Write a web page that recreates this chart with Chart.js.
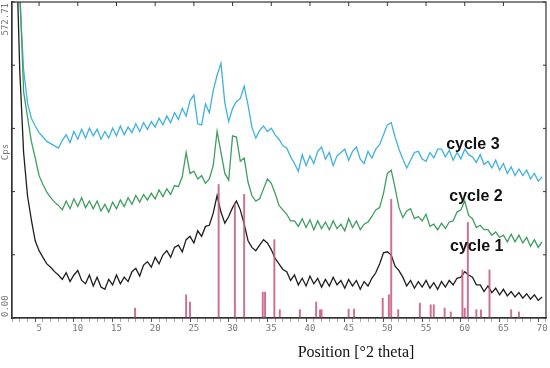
<!DOCTYPE html>
<html>
<head>
<meta charset="utf-8">
<script src="https://cdn.jsdelivr.net/npm/chart.js@4.4.1/dist/chart.umd.min.js"></script>
<style>
  html, body { margin: 0; padding: 0; background: #fff; }
  #wrap { width: 550px; height: 368px; }
</style>
</head>
<body>
<div id="wrap"><canvas id="xrd"></canvas></div>
<script>
// 2 theta positions (deg) shared by the three scans
const theta = [
  2.0, 2.5, 3.0, 3.5, 4.0, 4.5, 5.0, 5.5, 6.0, 6.5,
  7.0, 7.5, 8.0, 8.5, 9.0, 9.5, 10.0, 10.5, 11.0, 11.5,
  12.0, 12.5, 13.0, 13.5, 14.0, 14.5, 15.0, 15.5, 16.0, 16.5,
  17.0, 17.5, 18.0, 18.5, 19.0, 19.5, 20.0, 20.5, 21.0, 21.5,
  22.0, 22.5, 23.0, 23.5, 24.0, 24.5, 25.0, 25.5, 26.0, 26.5,
  27.0, 27.5, 28.0, 28.5, 29.0, 29.5, 30.0, 30.5, 31.0, 31.5,
  32.0, 32.5, 33.0, 33.5, 34.0, 34.5, 35.0, 35.5, 36.0, 36.5,
  37.0, 37.5, 38.0, 38.5, 39.0, 39.5, 40.0, 40.5, 41.0, 41.5,
  42.0, 42.5, 43.0, 43.5, 44.0, 44.5, 45.0, 45.5, 46.0, 46.5,
  47.0, 47.5, 48.0, 48.5, 49.0, 49.5, 50.0, 50.5, 51.0, 51.5,
  52.0, 52.5, 53.0, 53.5, 54.0, 54.5, 55.0, 55.5, 56.0, 56.5,
  57.0, 57.5, 58.0, 58.5, 59.0, 59.5, 60.0, 60.5, 61.0, 61.5,
  62.0, 62.5, 63.0, 63.5, 64.0, 64.5, 65.0, 65.5, 66.0, 66.5,
  67.0, 67.5, 68.0, 68.5, 69.0, 69.5, 70.0
];

// counts (Cps)
const cycle1 = [
  700, 450, 300, 222, 178, 140, 122, 110, 98, 92,
  84, 78, 70, 82, 66, 78, 86, 68, 62, 78,
  58, 74, 56, 52, 70, 60, 78, 62, 74, 66,
  84, 90, 76, 96, 102, 92, 110, 98, 114, 122,
  110, 128, 132, 120, 142, 148, 136, 158, 148, 166,
  168, 190, 222, 192, 172, 184, 200, 212, 196, 170,
  140, 128, 122, 132, 142, 136, 124, 108, 98, 88,
  84, 68, 78, 60, 72, 58, 76, 62, 72, 56,
  70, 58, 74, 60, 68, 54, 70, 58, 68, 52,
  66, 58, 72, 82, 98, 118, 120, 114, 94, 86,
  74, 58, 68, 54, 66, 56, 68, 54, 64, 52,
  66, 56, 68, 60, 72, 74, 84, 78, 74, 60,
  60, 48, 58, 46, 54, 42, 52, 40, 48, 38,
  46, 36, 44, 34, 42, 32, 38
];

const cycle2 = [
  800, 600, 410, 365, 320, 290, 258, 242, 228, 218,
  210, 204, 196, 212, 198, 216, 202, 218, 200, 212,
  198, 212, 194, 206, 192, 210, 198, 214, 202, 218,
  206, 222, 210, 224, 214, 226, 216, 232, 220, 234,
  224, 240, 238, 256, 300, 262, 266, 252, 258, 244,
  252, 276, 338, 300, 262, 250, 330, 328, 284, 290,
  246, 222, 212, 216, 234, 252, 244, 226, 204, 196,
  188, 176, 176, 166, 180, 164, 178, 160, 176, 162,
  174, 160, 176, 162, 170, 158, 180, 164, 176, 160,
  170, 174, 184, 196, 200, 226, 262, 268, 236, 200,
  182, 194, 198, 180, 184, 176, 188, 166, 170, 160,
  172, 162, 174, 176, 192, 196, 212, 186, 180, 164,
  168, 160, 160, 150, 156, 146, 150, 138, 152, 138,
  150, 136, 146, 130, 142, 128, 138
];

const cycle3 = [
  900, 580, 450, 390, 362, 348, 336, 328, 320, 316,
  312, 308, 322, 332, 318, 338, 324, 342, 326, 344,
  330, 342, 324, 338, 326, 344, 330, 348, 332, 346,
  336, 352, 338, 354, 342, 356, 346, 362, 350, 366,
  354, 372, 360, 380, 366, 394, 404, 352, 350, 388,
  372, 412, 440, 462, 390, 356, 380, 392, 398, 420,
  386, 346, 326, 340, 348, 338, 344, 332, 324, 312,
  308, 292, 280, 266, 296, 276, 294, 280, 302, 310,
  288, 300, 276, 294, 300, 306, 286, 302, 310, 288,
  280, 302, 290, 306, 314, 332, 350, 354, 328, 306,
  288, 272, 286, 300, 302, 288, 284, 300, 290, 306,
  306, 292, 304, 286, 300, 288, 306, 296, 292, 282,
  296, 278, 284, 272, 286, 268, 280, 262, 274, 258,
  270, 258, 268, 252, 262, 248, 256
];

// reference pattern sticks
const refTheta = [17.4, 24.0, 24.5, 28.2, 30.3, 31.5, 33.9, 34.2, 35.4, 36.1,
  38.7, 40.8, 41.3, 41.5, 45.0, 45.7, 49.4, 50.2, 50.5, 51.4,
  54.2, 55.6, 56.0, 57.4, 58.2, 59.7, 60.0, 60.4, 61.5, 62.1,
  63.2, 66.0, 67.0];
const refCps = [18, 42, 29, 242, 205, 224, 47, 47, 142, 15,
  15, 29, 15, 15, 16, 16, 36, 42, 215, 15,
  27, 24, 24, 18, 11, 87, 18, 173, 15, 15,
  87, 15, 11];

const yMax = 572.71;
const seriesNames = ['cycle 1', 'cycle 2', 'cycle 3'];

function toPoints(xs, ys) {
  return xs.map((t, i) => ({ x: t, y: ys[i] }));
}

// frame, inward ticks and the extra texts
const decorations = {
  id: 'decorations',
  afterDraw(chart) {
    const ctx = chart.ctx;
    const a = chart.chartArea;
    const x = chart.scales.x;
    const y = chart.scales.y;
    ctx.save();
    ctx.strokeStyle = '#333';
    ctx.lineWidth = 1.2;
    ctx.strokeRect(a.left, a.top, a.right - a.left, a.bottom - a.top);

    ctx.lineWidth = 1;
    ctx.beginPath();
    for (let t = 5; t < 70; t += 5) {
      let px = x.getPixelForValue(t);
      ctx.moveTo(px, a.top);
      ctx.lineTo(px, a.top + 4);
    }
    y.ticks.forEach(tk => {
      let py = y.getPixelForValue(tk.value);
      ctx.moveTo(a.left, py);
      ctx.lineTo(a.left + 3, py);
      ctx.moveTo(a.right, py);
      ctx.lineTo(a.right - 3, py);
    });
    ctx.stroke();

    // rotated y labels
    ctx.fillStyle = '#777';
    ctx.font = '9px "DejaVu Sans Mono"';
    ctx.textBaseline = 'middle';
    ctx.save();
    ctx.translate(6, y.getPixelForValue(yMax));
    ctx.rotate(-Math.PI / 2);
    ctx.textAlign = 'right';
    ctx.fillText(yMax.toFixed(2), -1, 0);
    ctx.restore();
    ctx.save();
    ctx.translate(6, 152);
    ctx.rotate(-Math.PI / 2);
    ctx.textAlign = 'center';
    ctx.fillText('Cps', 0, 0);
    ctx.restore();
    ctx.save();
    ctx.translate(6, y.getPixelForValue(0));
    ctx.rotate(-Math.PI / 2);
    ctx.textAlign = 'left';
    ctx.fillText('0.00', 1, 0);
    ctx.restore();

    // axis title
    ctx.fillStyle = '#111';
    ctx.font = '16px "Liberation Serif"';
    ctx.textAlign = 'center';
    ctx.fillText('Position [°2 theta]', 356, 353);

    // scan names
    ctx.font = 'bold 16px "Liberation Sans"';
    ctx.textAlign = 'left';
    ctx.fillStyle = '#111';
    ctx.fillText(seriesNames[2], x.getPixelForValue(57.6), y.getPixelForValue(315));
    ctx.fillText(seriesNames[1], x.getPixelForValue(58.0), y.getPixelForValue(220));
    ctx.fillText(seriesNames[0], x.getPixelForValue(58.1), y.getPixelForValue(129));
    ctx.restore();
  }
};

let xrd = new Chart(document.getElementById('xrd'), {
  type: 'line',
  data: {
    datasets: [
      {
        type: 'bar',
        label: 'reference',
        data: toPoints(refTheta, refCps),
        backgroundColor: 'rgba(200, 95, 135, 0.9)',
        barThickness: 1.3,
        order: 0
      },
      {
        label: seriesNames[0],
        data: toPoints(theta, cycle1),
        borderColor: '#1e1e1e',
        borderWidth: 1.3,
        pointRadius: 0,
        order: 1
      },
      {
        label: seriesNames[1],
        data: toPoints(theta, cycle2),
        borderColor: '#3f9e5f',
        borderWidth: 1.3,
        pointRadius: 0,
        order: 2
      },
      {
        label: seriesNames[2],
        data: toPoints(theta, cycle3),
        borderColor: '#3fb2dd',
        borderWidth: 1.3,
        pointRadius: 0,
        order: 3
      }
    ]
  },
  options: {
    responsive: true,
    maintainAspectRatio: false,
    animation: false,
    layout: { padding: { top: 2, right: 4, left: 0, bottom: 0 } },
    plugins: {
      legend: { display: false },
      tooltip: { enabled: false }
    },
    scales: {
      x: {
        type: 'linear',
        min: 2,
        max: 70,
        afterFit: s => { s.height = 50; },
        border: { display: true, color: '#333', width: 1.2 },
        grid: {
          drawOnChartArea: false,
          tickLength: 4,
          tickColor: c => (c.tick && c.tick.value % 5 === 0) ? '#555' : '#aaa'
        },
        ticks: {
          stepSize: 1,
          autoSkip: false,
          maxRotation: 0,
          padding: 1,
          color: '#777',
          font: { family: '"DejaVu Sans Mono"', size: 9 },
          callback: v => (v % 5 === 0) ? String(v) : ''
        }
      },
      y: {
        min: 0,
        max: yMax,
        afterFit: s => { s.width = 12; },
        afterBuildTicks: s => {
          s.ticks = [0, 1, 2, 3, 4, 5].map(i => ({ value: yMax * i / 5 }));
        },
        border: { display: true, color: '#333', width: 1.2 },
        grid: { drawOnChartArea: false, drawTicks: false },
        ticks: { display: false }
      }
    }
  },
  plugins: [decorations]
});
</script>
</body>
</html>
